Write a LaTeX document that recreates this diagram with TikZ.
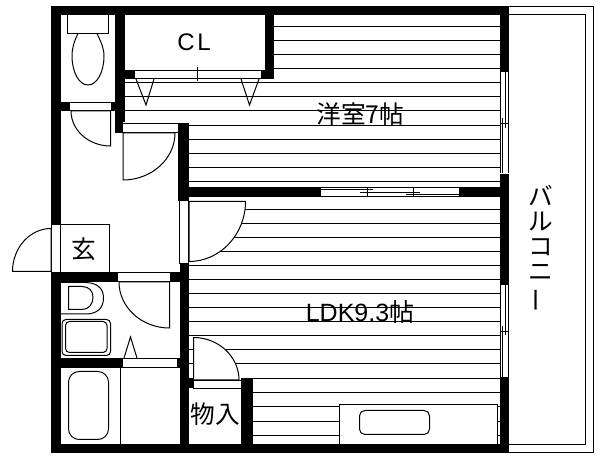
\documentclass[tikz,border=0pt]{standalone}
\usepackage{fontspec}
\setmainfont{Liberation Sans}
\newfontfamily\cjk{Noto Sans CJK JP}
\usetikzlibrary{calc}
\newcommand{\doorleaf}[3]{\draw[thinline, fill=white] (#1) -- (#2) .. controls ($(#2)!.55!($(#2)+(#3)-(#1)$)$) and ($(#3)!.55!($(#2)+(#3)-(#1)$)$) .. (#3) -- cycle;}

\begin{document}
\begin{tikzpicture}[
    x=0.75pt, y=-0.75pt,
    thinline/.style={draw=black, line width=0.75pt},
    wall/.style={fill=black},
    opening/.style={draw=black, line width=0.75pt, fill=white},
    fixture/.style={draw=black, line width=0.75pt, fill=white, rounded corners=3pt},
    latin/.style={font=\fontsize{18}{20}\selectfont, inner sep=0pt},
    kanji/.style={font=\cjk\fontsize{18.5}{18.75}\selectfont, inner sep=0pt}
]
    \useasboundingbox (0,0) rectangle (600,459);
    \fill[white] (0,0) rectangle (600,459);

    % balcony
    \draw[thinline] (509,6.5) -- (593,6.5) -- (593,452.5) -- (509,452.5);
    \draw[thinline] (509,14.5) -- (585.5,14.5) -- (585.5,444.5) -- (509,444.5);

    % floor lines
    \foreach \yy in {26.5,40.5,54.5,68.5} \draw[thinline] (274,\yy) -- (500,\yy);
    \foreach \yy in {82.5,96.5,110.5} \draw[thinline] (125,\yy) -- (500,\yy);
    \foreach \yy in {125.5,139.5,153.5,167.5,181.5} \draw[thinline] (189,\yy) -- (500,\yy);
    \foreach \yy in {209.5,223.5,237.5,251.5,265.5,279.5,293.5,307.5,321.5,335.5,349.5,363.5} \draw[thinline] (189,\yy) -- (500,\yy);
    \foreach \yy in {378.5,392.5,406.5,421.5,435.5} \draw[thinline] (253,\yy) -- (500,\yy);

    % walls
    \fill[wall] (51,6) rectangle (509,15);
    \fill[wall] (51,6) rectangle (61,225);
    \fill[wall] (51,272) rectangle (61,453);
    \fill[wall] (51,444) rectangle (509,453);
    \fill[wall] (500,6) rectangle (509,72);
    \fill[wall] (500,174) rectangle (509,285);
    \fill[wall] (500,377) rectangle (509,453);
    \fill[wall] (115,6) rectangle (125,122);
    \fill[wall] (115,122) rectangle (122.5,133);
    \fill[wall] (265,6) rectangle (274,79);
    \fill[wall] (261,70) rectangle (274,79);
    \fill[wall] (125,70) rectangle (134,79);
    \fill[wall] (61,102) rectangle (69,111);
    \fill[wall] (111,102) rectangle (115,111);
    \fill[wall] (178,123) rectangle (189,201);
    \fill[wall] (178,187) rectangle (320,197);
    \fill[wall] (460,187) rectangle (500,197);
    \fill[wall] (180,264) rectangle (189,453);
    \fill[wall] (61,272) rectangle (117,282);
    \fill[wall] (170,272) rectangle (189,282);
    \fill[wall] (61,358) rectangle (122,368);
    \fill[wall] (177,358) rectangle (180,368);
    \fill[wall] (189,378) rectangle (193,388);
    \fill[wall] (241,378) rectangle (253,444);

    % closet door
    \draw[opening] (134,70.5) rectangle (261,78.5);
    \draw[thinline] (197.5,67) -- (197.5,81);
    \draw[thinline] (136,79) -- (146,105) -- (154,79);
    \draw[thinline] (241,79) -- (249.5,105) -- (259,79);

    % door openings
    \draw[opening] (69,102.5) rectangle (111,110.5);
    \draw[opening] (122.5,123.5) rectangle (178,132.5);
    \draw[opening] (179.5,201) rectangle (188.5,264);
    \draw[opening] (117,272.5) rectangle (170,281.5);
    \draw[opening] (122,358.5) rectangle (177,367.5);
    \draw[opening] (193,380.5) rectangle (241,388.5);
    \draw[thinline] (51.5,225) -- (51.5,272);
    \draw[thinline] (60.5,225) -- (60.5,272);

    % door leaves
    \doorleaf{110.5,111}{110.5,146}{71,111}
    \doorleaf{123,133}{123,180}{175,133}
    \doorleaf{189,201.5}{245.5,201.5}{189,261.5}
    \doorleaf{51,271.5}{12.5,271.5}{51,228.5}
    \doorleaf{169.5,282}{169.5,328}{119,282}
    \doorleaf{193.5,380}{193.5,337.5}{239,380}
    \draw[thinline] (124,358) -- (130.5,337) -- (137,358);

    % sliding door
    \draw[opening] (320,187.5) rectangle (459,196.5);
    \draw[thinline] (320,189.5) -- (373,189.5);
    \draw[thinline] (360,192.5) -- (420,192.5);
    \draw[thinline] (406,194.5) -- (459,194.5);
    \draw[thinline] (367.5,187.5) -- (367.5,196.5);
    \draw[thinline] (413.5,187.5) -- (413.5,196.5);

    % windows
    \foreach \ya/\yb/\yc/\yd/\ye in {72/173/118/128/123.5, 285/377/326/335/331.5} {
        \fill[white] (500,\ya) rectangle (509,\yb);
        \draw[thinline] (500.5,\ya) -- (500.5,\yb);
        \draw[thinline] (502.5,\yc) -- (502.5,\yb);
        \draw[thinline] (505.5,\ya) -- (505.5,\yd);
        \draw[thinline] (508.5,\ya) -- (508.5,\yb);
        \draw[thinline] (500.5,\ye) -- (508.5,\ye);
    }

    % toilet
    \draw[thinline] (67.5,15) rectangle (108.5,33.5);
    \draw[thinline] (78,33.5) .. controls (74,42) and (72,48) .. (72,56) .. controls (72,72) and (79,85) .. (88,85) .. controls (97,85) and (104,72) .. (104,56) .. controls (104,48) and (101,42) .. (97,33.5);

    % washbasin and washer
    \draw[thinline] (61,282.5) -- (86,282.5) .. controls (97,283) and (103.5,288) .. (103.5,298) .. controls (103.5,308) and (97,314) .. (86,314) -- (61,314);
    \draw[thinline] (68.5,286.5) -- (82,286.5) .. controls (89,286.5) and (93,291) .. (93,297) .. controls (93,304) and (89,309.5) .. (82,309.5) -- (68.5,309.5) -- cycle;
    \draw[fixture] (62,319.5) rectangle (110.5,355.5);
    \draw[fixture] (65.5,321.5) rectangle (107,352.5);

    % bath
    \draw[fixture, rounded corners=8pt] (68.5,371.5) rectangle (108.5,439.5);
    \draw[thinline] (120.5,368) -- (120.5,444);

    % kitchen
    \draw[thinline, fill=white] (339.5,444) -- (339.5,404.5) -- (497.5,404.5) -- (497.5,444);
    \draw[fixture, rounded corners=4pt] (359.5,410.5) rectangle (429.5,434.5);

    % labels
    \draw[thinline] (61,224.5) -- (109.5,224.5) -- (109.5,272);
    \node[latin] (closet) at (194,42.5) {C\kern2pt L};
    \node[kanji] (entry) at (83.5,249) {玄};
    \node[kanji] (western) at (360.5,114.5) {洋室7帖};
    \node[latin, font=\fontsize{18.75}{20}\selectfont] (ldk) at (360,312.5) {LDK9.3{\cjk 帖}};
    \node[kanji] (storage) at (215,414.5) {物入};
    \node[kanji, align=center] (balcony) at (540.5,248.5) {バ\\ル\\コ\\ニ\\\rotatebox[origin=c]{90}{ー}};
\end{tikzpicture}
\end{document}
